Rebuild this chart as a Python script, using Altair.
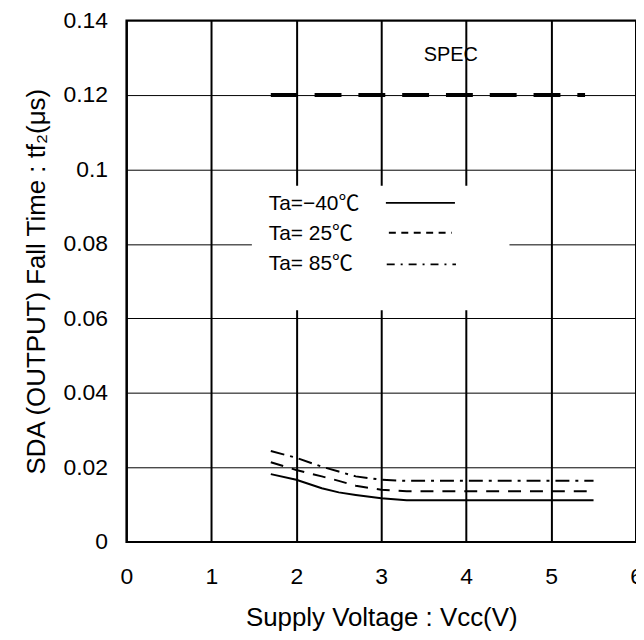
import altair as alt
import pandas as pd

# ---- data ----
vcc = [1.7, 2.0, 2.3, 2.5, 2.7, 3.0, 3.3, 4.0, 5.0, 5.5]
t_m40 = [0.0182, 0.0167, 0.0144, 0.0133, 0.0126, 0.0117, 0.0112, 0.0112, 0.0112, 0.0112]
t_25 = [0.0214, 0.0193, 0.0176, 0.0164, 0.0151, 0.0140, 0.0136, 0.0136, 0.0136, 0.0136]
t_85 = [0.0244, 0.0226, 0.0202, 0.0189, 0.0176, 0.0167, 0.0164, 0.0164, 0.0164, 0.0164]

spec_x = [1.7, 5.4]
spec_y = [0.12, 0.12]

x_ticks = [0, 1, 2, 3, 4, 5, 6]
y_ticks = [0, 0.02, 0.04, 0.06, 0.08, 0.1, 0.12, 0.14]

legend_labels = ["Ta=−40℃", "Ta= 25℃", "Ta= 85℃"]
legend_text_y = [0.0906, 0.0826, 0.0747]
legend_line_y = [0.0910, 0.0830, 0.0745]

FONT = "Liberation Sans, Arial, Noto Sans CJK JP"

xs = alt.Scale(domain=[0, 6], nice=False, zero=False)
ys = alt.Scale(domain=[0, 0.14], nice=False, zero=False)

xaxis = alt.Axis(values=x_ticks, title="Supply Voltage : Vcc(V)", labelFontSize=23,
                 labelPadding=24, titleFontSize=26, titlePadding=16, gridWidth=2,
                 labelFlush=False)
yaxis = alt.Axis(values=y_ticks, title="SDA (OUTPUT) Fall Time : tf₂(μs)", format="~g",
                 labelFontSize=23, labelPadding=19, titleFontSize=26, titlePadding=14,
                 gridWidth=1)

X = lambda f: alt.X(f, type="quantitative", scale=xs, axis=xaxis)
Y = lambda f: alt.Y(f, type="quantitative", scale=ys, axis=yaxis)

# legend white box
box = alt.Chart(pd.DataFrame({"x": [1.477], "x2": [4.51], "y": [0.0622], "y2": [0.0956]})).mark_rect(
    color="white").encode(x=X("x"), x2="x2", y=Y("y"), y2="y2")

spec = alt.Chart(pd.DataFrame({"x": spec_x, "y": spec_y})).mark_line(
    color="black", strokeWidth=4, strokeDash=[27, 17]).encode(x=X("x"), y=Y("y"))

spec_text = alt.Chart(pd.DataFrame({"x": [3.82], "y": [0.1308], "t": ["SPEC"]})).mark_text(
    font=FONT, fontSize=20, color="black", align="center", baseline="middle").encode(
    x=X("x"), y=Y("y"), text="t:N")

def series(vals, dash, width):
    df = pd.DataFrame({"x": vcc, "y": vals})
    kw = dict(color="black", strokeWidth=width)
    if dash:
        kw["strokeDash"] = dash
    return alt.Chart(df).mark_line(**kw).encode(x=X("x"), y=Y("y"))

l1 = series(t_m40, None, 2)
l2 = series(t_25, [13, 9], 2)
l3 = series(t_85, [14, 6, 3, 6], 2)

leg_text = alt.Chart(pd.DataFrame({"x": [1.676] * 3, "y": legend_text_y, "t": legend_labels})).mark_text(
    font=FONT, fontSize=21, color="black", align="left", baseline="middle").encode(
    x=X("x"), y=Y("y"), text="t:N")

def sample(y, x1, x2, dash):
    kw = dict(color="black", strokeWidth=1.8)
    if dash:
        kw["strokeDash"] = dash
    return alt.Chart(pd.DataFrame({"x": [x1], "x2": [x2], "y": [y]})).mark_rule(**kw).encode(
        x=X("x"), x2="x2", y=Y("y"))

s1 = sample(legend_line_y[0], 3.055, 3.868, None)
s2 = sample(legend_line_y[1], 3.09, 3.83, [7, 5.5])
s3 = sample(legend_line_y[2], 3.065, 3.88, [8, 6, 2, 6])

chart = alt.layer(box, spec, spec_text, l1, l2, l3, leg_text, s1, s2, s3).properties(
    width=512, height=524, autosize="none",
    padding={"left": 119, "top": 11, "right": 0, "bottom": 89},
    background="white",
).configure_view(stroke="black", strokeWidth=2).configure_axis(
    domain=False, ticks=False, grid=True, gridColor="black", gridOpacity=1,
    labelFont=FONT, titleFont=FONT, labelColor="black", titleColor="black",
    titleFontWeight="normal",
)

chart.save("out.html", embed_options={"renderer": "svg", "actions": False})
